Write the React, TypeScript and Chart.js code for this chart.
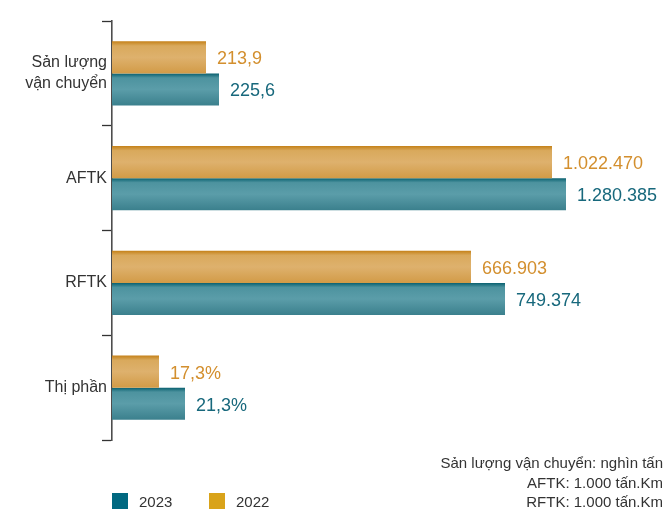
import { useEffect, useRef } from 'react';
import { Chart, registerables } from 'chart.js';

Chart.register(...registerables);

// ---- data ----
const categories: (string | string[])[] = [['Sản lượng', 'vận chuyển'], 'AFTK', 'RFTK', 'Thị phần'];
const seriesNames = ['2022', '2023'];
// bar lengths as drawn in the picture (display units on a 0..553 axis)
const bars2022 = [94, 440, 359, 47];
const bars2023 = [107, 454, 393, 73];
// printed value labels
const labels2022 = ['213,9', '1.022.470', '666.903', '17,3%'];
const labels2023 = ['225,6', '1.280.385', '749.374', '21,3%'];
const footnotes = ['Sản lượng vận chuyển: nghìn tấn', 'AFTK: 1.000 tấn.Km', 'RFTK: 1.000 tấn.Km'];
const AXIS_MAX = 553;

// ---- styles ----
const FONT = "'Liberation Sans', Arial, Helvetica, sans-serif";
const CAT_PCT = 0.611;
const goldStops: [number, string][] = [
  [0, '#C5821A'],
  [0.14, '#D9A95C'],
  [0.5, '#DEB16D'],
  [1, '#D29B47'],
];
const tealStops: [number, string][] = [
  [0, '#08606F'],
  [0.14, '#4D939F'],
  [0.5, '#5B9DA9'],
  [1, '#3B808D'],
];
const legendColors = ['#D9A31A', '#006880'];
const labelColors = ['#D38F2E', '#17687C'];

function barGradient(ctx: any, stops: [number, string][]) {
  const chart = ctx.chart;
  const y = chart.scales && chart.scales.y;
  if (!y || ctx.type !== 'data' || y.bottom === undefined) return stops[2][1];
  const n = categories.length;
  const size = (y.bottom - y.top) / n;
  const t = (size * CAT_PCT) / 2;
  const c = y.getPixelForValue(ctx.dataIndex);
  const top = ctx.datasetIndex === 0 ? c - t : c;
  if (!isFinite(top)) return stops[2][1];
  const g = chart.ctx.createLinearGradient(0, top, 0, top + t);
  stops.forEach(([o, col]) => g.addColorStop(o, col));
  return g;
}

const overlayPlugin = {
  id: 'overlay',
  afterDatasetsDraw(chart: any) {
    const ctx = chart.ctx;
    const allLabels = [labels2022, labels2023];
    ctx.save();
    ctx.font = `18px ${FONT}`;
    ctx.textAlign = 'left';
    ctx.textBaseline = 'alphabetic';
    chart.data.datasets.forEach((_ds: any, di: number) => {
      const meta = chart.getDatasetMeta(di);
      meta.data.forEach((el: any, i: number) => {
        ctx.fillStyle = labelColors[di];
        ctx.fillText(allLabels[di][i], el.x + 11, el.y + 7);
      });
    });
    ctx.restore();
  },
  afterDraw(chart: any) {
    const ctx = chart.ctx;
    ctx.save();
    // legend (2023 first, then 2022)
    ctx.font = `15px ${FONT}`;
    ctx.textBaseline = 'alphabetic';
    ctx.textAlign = 'left';
    const order = [1, 0];
    const xs = [112, 209];
    order.forEach((di, k) => {
      ctx.fillStyle = legendColors[di];
      ctx.fillRect(xs[k], 493, 16, 16);
      ctx.fillStyle = '#333333';
      ctx.fillText(chart.data.datasets[di].label, xs[k] + 27, 507);
    });
    // footnote
    ctx.textAlign = 'right';
    const baselines = [468, 488, 507];
    footnotes.forEach((t, i) => {
      ctx.fillStyle = '#333333';
      ctx.fillText(t, 663, baselines[i]);
    });
    ctx.restore();
  },
};

export default function App() {
  const ref = useRef<HTMLCanvasElement | null>(null);
  useEffect(() => {
    if (!ref.current) return;
    Chart.defaults.font.family = FONT;
    const chart = new Chart(ref.current, {
      type: 'bar',
      data: {
        labels: categories as any,
        datasets: [
          {
            label: seriesNames[0],
            data: bars2022,
            backgroundColor: (c: any) => barGradient(c, goldStops),
            borderWidth: 0,
            categoryPercentage: CAT_PCT,
            barPercentage: 1,
          },
          {
            label: seriesNames[1],
            data: bars2023,
            backgroundColor: (c: any) => barGradient(c, tealStops),
            borderWidth: 0,
            categoryPercentage: CAT_PCT,
            barPercentage: 1,
          },
        ],
      },
      options: {
        indexAxis: 'y',
        animation: false,
        responsive: true,
        maintainAspectRatio: false,
        layout: { padding: { top: 21, bottom: 69, left: 0, right: 0 } },
        plugins: {
          legend: { display: false },
          tooltip: { enabled: false },
        },
        scales: {
          x: {
            display: false,
            min: 0,
            max: AXIS_MAX,
          },
          y: {
            type: 'category',
            afterFit: (scale: any) => {
              scale.width = 112;
            },
            border: { display: true, color: '#4d4d4d', width: 1.6 },
            grid: {
              display: true,
              drawOnChartArea: false,
              drawTicks: true,
              tickLength: 10,
              tickWidth: 1.3,
              tickColor: '#333333',
              offset: true,
            },
            ticks: {
              color: '#333333',
              font: { size: 16, family: FONT, lineHeight: 1.3 },
              padding: -5,
              autoSkip: false,
            },
          },
        },
      },
      plugins: [overlayPlugin],
    } as any);
    return () => chart.destroy();
  }, []);
  return (
    <div style={{ position: 'fixed', left: 0, top: 0, width: 665, height: 509, background: '#ffffff' }}>
      <canvas ref={ref} />
    </div>
  );
}
